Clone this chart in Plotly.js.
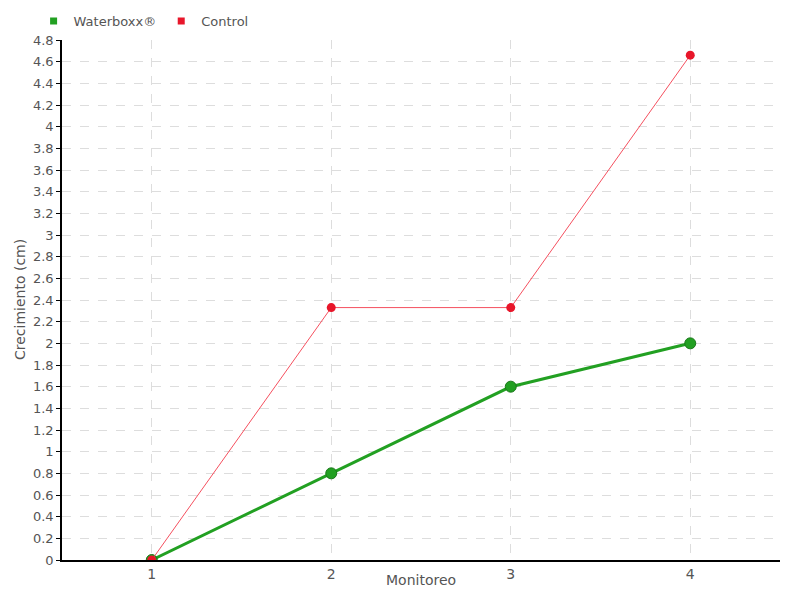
<!DOCTYPE html>
<html><head><meta charset="utf-8">
<script src="https://cdn.plot.ly/plotly-3.0.1.min.js"></script>
<style>body{margin:0}#c{width:800px;height:600px}</style>
</head><body><div id="c"></div>
<script>
const categories = [1, 2, 3, 4];
const waterboxx = [0, 0.8, 1.6, 2.0];
const control = [0, 2.33, 2.33, 4.66];
const yTicks = [0,0.2,0.4,0.6,0.8,1,1.2,1.4,1.6,1.8,2,2.2,2.4,2.6,2.8,3,3.2,3.4,3.6,3.8,4,4.2,4.4,4.6,4.8];
const xTitle = 'Monitoreo';
const yTitle = 'Crecimiento (cm)';

const font = "'DejaVu Sans', sans-serif";
const traces = [
  {x: categories, y: waterboxx, name: 'Waterboxx®', type: 'scatter', mode: 'lines+markers',
   showlegend: false,
   line: {color: '#22a022', width: 3},
   marker: {color: '#22a022', size: 11, line: {color: '#1a781a', width: 1}, symbol: 'circle'}},
  {x: categories, y: control, name: 'Control', type: 'scatter', mode: 'lines+markers',
   showlegend: false,
   line: {color: '#f5505f', width: 1},
   marker: {color: '#e8162a', size: 9, symbol: 'circle'}},
  {x: [null], y: [null], name: 'Waterboxx®', type: 'scatter', mode: 'markers',
   marker: {color: '#22a022', size: 7, symbol: 'square'}},
  {x: [null], y: [null], name: 'Control', type: 'scatter', mode: 'markers',
   marker: {color: '#e8162a', size: 7, symbol: 'square'}}
];
const layout = {
  width: 800, height: 600,
  margin: {l: 62, r: 20, t: 40, b: 40},
  paper_bgcolor: '#fff', plot_bgcolor: '#fff',
  font: {family: font, size: 14, color: '#555'},
  showlegend: true,
  legend: {orientation: 'h', xref: 'container', yref: 'container', x: 0.042, y: 0.965,
           yanchor: 'middle', xanchor: 'left',
           font: {size: 13, color: '#555'}, itemwidth: 30, tracegroupgap: 0},
  xaxis: {range: [0.5, 4.5], tickvals: categories, ticktext: categories.map(String),
          showgrid: true, gridcolor: '#dddddd', griddash: 'dash', gridwidth: 1,
          showline: true, linecolor: '#000', linewidth: 1.5, zeroline: false,
          ticks: '', tickfont: {size: 14, color: '#555'}},
  yaxis: {range: [0, 4.8], tickvals: yTicks, ticktext: yTicks.map(String),
          showgrid: true, gridcolor: '#dddddd', griddash: 'dash', gridwidth: 1,
          showline: true, linecolor: '#000', linewidth: 1.5, zeroline: false,
          ticks: 'outside', ticklen: 4, tickcolor: '#000',
          tickfont: {size: 13, color: '#555'}},
  annotations: [
    {text: xTitle, xref: 'paper', yref: 'paper', x: 0.5, y: -20/520, yanchor: 'middle', xanchor: 'center',
     showarrow: false, font: {size: 14, color: '#555'}},
    {text: yTitle, xref: 'paper', yref: 'paper', x: -42/718, y: 0.5, xanchor: 'center', yanchor: 'middle',
     textangle: -90, showarrow: false, font: {size: 14, color: '#555'}}
  ]
};
Plotly.newPlot('c', traces, layout, {displayModeBar: false});
</script></body></html>
